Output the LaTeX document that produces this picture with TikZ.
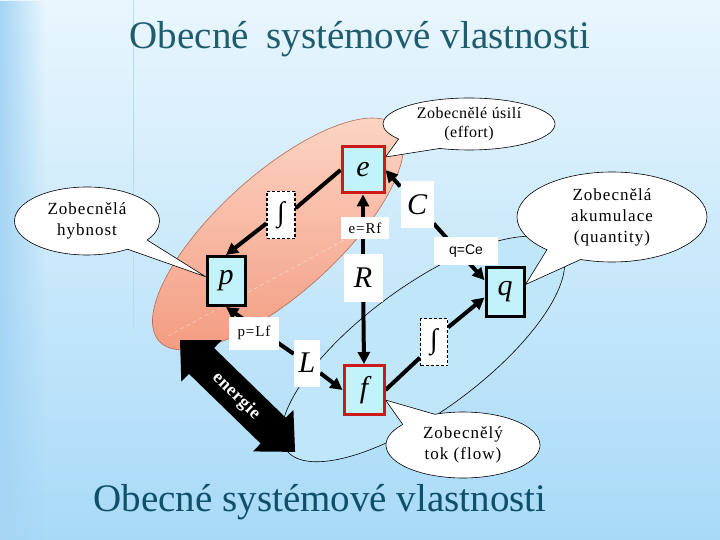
\documentclass[tikz,border=0pt]{standalone}
\usepackage{fontspec}
\setmainfont{Liberation Serif}
\newfontfamily\sansf{Liberation Sans}
\newfontfamily\spacedf{Liberation Serif}[LetterSpace=6.0]
\newfontfamily\effortf{Liberation Serif}[LetterSpace=3.0]
\newfontfamily\labf{Liberation Serif}[LetterSpace=6.0]
\newfontfamily\energf{Liberation Serif Bold}[LetterSpace=3.0]
\usetikzlibrary{shapes.callouts,arrows.meta,fadings}
\pgfdeclarelayer{bg}
\pgfdeclarelayer{lines}
\pgfsetlayers{bg,lines,main}
\tikzfading[name=fadeR, left color=transparent!0, right color=transparent!100]
\definecolor{bgtop}{HTML}{E9F6FD}
\definecolor{bgmid}{HTML}{CDEBFA}
\definecolor{bgbot}{HTML}{A8DAF8}
\definecolor{leftblue}{HTML}{A6D5F5}
\definecolor{vline}{HTML}{B8DCEC}
\definecolor{titlecol}{HTML}{1F5C6E}
\definecolor{subcol}{HTML}{0E4F6A}
\definecolor{redA}{HTML}{FDDCCD}
\definecolor{redB}{HTML}{F29478}
\definecolor{redC}{HTML}{B86A52}
\definecolor{bluefill}{HTML}{BFE7F9}
\definecolor{boxfill}{HTML}{C2F3FA}
\definecolor{boxred}{HTML}{CC1A1A}
\begin{document}
\begin{tikzpicture}[x=1pt,y=-1pt,
  conn/.style={line width=4},
  tipend/.style={-{Triangle[length=12pt,width=12pt]}},
  mbox/.style={draw, line width=3, fill=boxfill, inner sep=0pt,
    font=\fontsize{30}{30}\selectfont\itshape},
  intbox/.style={draw, dashed, line width=1.3, dash pattern=on 3pt off 2pt,
    fill=white, inner sep=0pt, font=\fontsize{28}{28}\selectfont},
  wbox/.style={fill=white, inner sep=0pt, font=\fontsize{30}{30}\selectfont\itshape},
  lbox/.style={fill=white, inner sep=0pt, font=\fontsize{15}{15}\selectfont\labf},
  callbox/.style={ellipse callout, draw, line width=0.6, fill=white, inner sep=0pt,
    align=center}]
\useasboundingbox (0,0) rectangle (720,540);

% ---------- boxes (main layer) ----------
\node[mbox, draw=boxred, minimum width=42, minimum height=46] (e) at (363,170) {e};
\node[mbox, minimum width=38, minimum height=49] (p) at (226,281) {p};
\node[mbox, minimum width=38, minimum height=49] (q) at (505,292) {q};
\node[mbox, draw=boxred, minimum width=40, minimum height=49] (f) at (364,390) {f};
\node[intbox, minimum width=28, minimum height=47] (int1) at (281,215) {∫};
\node[intbox, minimum width=27, minimum height=47] (int2) at (434,342) {∫};
\node[wbox, minimum width=33, minimum height=47] (C) at (417,205) {C};
\node[wbox, minimum width=39, minimum height=48] (R) at (363,278) {R};
\node[wbox, minimum width=26, minimum height=47] (L) at (307,363) {L};
\node[lbox, minimum width=48, minimum height=22] (eRf) at (365,228) {e=Rf};
\node[lbox, minimum width=64, minimum height=28, font=\fontsize{14}{14}\selectfont\sansf] (qCe) at (466,251) {q=Ce};
\node[lbox, minimum width=50, minimum height=33] (pLf) at (254,333) {p=Lf};

% ---------- connectors ----------
\begin{pgfonlayer}{lines}
\draw[conn] (e.west) -- (int1.25);
\draw[conn, tipend] (int1.-150) -- (p.north);
\draw[conn, tipend] (R) -- (e.south);
\draw[conn, tipend] (R) -- (f.north);
\draw[conn, tipend] (C) -- (e.east);
\draw[conn, tipend] (C) -- (q.150);
\draw[conn, tipend] (L) -- (p.south);
\draw[conn, tipend] (L) -- (f.west);
\draw[conn] (f.east) -- (int2.-132);
\draw[conn, tipend] (int2.46) -- (q.-165);
\end{pgfonlayer}

% ---------- background, ellipses, callouts ----------
\begin{pgfonlayer}{bg}
\shade[top color=bgtop, middle color=bgmid, bottom color=bgbot] (0,0) rectangle (720,540);
\fill[leftblue, path fading=fadeR] (0,0) rectangle (45,540);
\draw[vline, line width=0.7] (133,0) -- (133,330);

\node[text=titlecol, font=\fontsize{39}{45}\selectfont, anchor=base, inner sep=0pt]
  (title) at (360,49) {Obecné\hspace{0.45em}systémové vlastnosti};

\begin{scope}[rotate around={42:(278,234)}]
  \begin{scope}
    \clip (278,234) ellipse [x radius=160, y radius=60];
    \shade[top color=redA, bottom color=redB] (118,174) rectangle (438,294);
  \end{scope}
  \draw[redC, line width=0.6] (278,234) ellipse [x radius=160, y radius=60];
\end{scope}
\draw[white, opacity=0.45, line width=0.6, dash pattern=on 4pt off 3pt]
  (168,336) -- (392,214);
\filldraw[fill=bluefill, draw=black, line width=0.6, rotate around={36.5:(423,349)}]
  (423,349) ellipse [x radius=170, y radius=62];

\begin{scope}[shift={(180,340)}, rotate=-44.2]
  \fill[black] (0,0) -- (30,29) -- (30,18) -- (130,18) -- (130,29) -- (160.5,0)
    -- (130,-29) -- (130,-18) -- (30,-18) -- (30,-29) -- cycle;
\end{scope}
\node[text=white, font=\fontsize{18}{18}\selectfont\energf, rotate=-44.2, inner sep=0pt]
  (energie) at (236,396) {energie};

\node[callbox, minimum width=172, minimum height=52, callout absolute pointer={(e.30)},
  callout pointer arc=35, font=\fontsize{16}{19}\selectfont\effortf]
  (ceff) at (469,124) {Zobecnělé úsilí\\(effort)};
\node[callbox, minimum width=145, minimum height=68, callout absolute pointer={(p.168)},
  callout pointer arc=22, font=\fontsize{17}{21}\selectfont\spacedf]
  (chyb) at (87,221) {Zobecnělá\\hybnost};
\node[callbox, minimum width=190, minimum height=90, callout absolute pointer={(q.20)},
  callout pointer arc=24, font=\fontsize{17}{21}\selectfont\spacedf]
  (cakum) at (612,217) {Zobecnělá\\akumulace\\(quantity)};
\node[callbox, minimum width=154, minimum height=66, callout absolute pointer={(f.-25)},
  callout pointer arc=30, font=\fontsize{17}{21}\selectfont\spacedf]
  (cflow) at (463,445) {Zobecnělý\\tok (flow)};

\node[text=subcol, font=\fontsize{39}{45}\selectfont, anchor=base, inner sep=0pt]
  (subtitle) at (320,511) {Obecné systémové vlastnosti};
\end{pgfonlayer}
\end{tikzpicture}
\end{document}
